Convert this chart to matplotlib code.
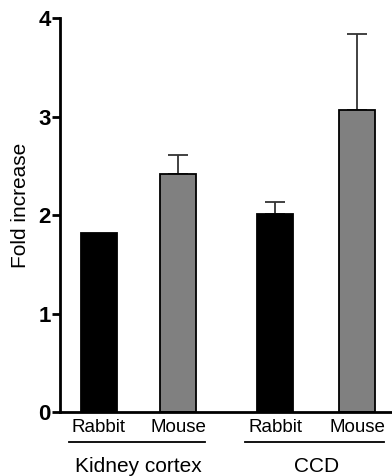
import matplotlib
matplotlib.use("Agg")
import matplotlib.pyplot as plt

plt.rcParams['font.family'] = ['Liberation Sans', 'DejaVu Sans']

# data
labels = ["Rabbit", "Mouse", "Rabbit", "Mouse"]
groups = ["Kidney cortex", "CCD"]
values = [1.82, 2.42, 2.01, 3.07]
errors = [0.0, 0.19, 0.12, 0.77]
colors = ["black", "#808080", "black", "#808080"]

# layout
pos = [0, 1, 2.22, 3.25]
width = 0.45

fig = plt.figure(figsize=(3.92, 4.76), dpi=100)
ax = fig.add_axes([0.153, 0.134, 0.847, 0.828])

ax.bar(pos, values, width=width, color=colors, edgecolor="black", linewidth=1.3, zorder=2)
for x, v, e in zip(pos, values, errors):
    if e > 0:
        ax.errorbar(x, v, yerr=[[0], [e]], fmt="none", ecolor="#333333",
                    elinewidth=1.3, capsize=7, capthick=1.3, zorder=1)

ax.set_xlim(-0.49, 3.69)
ax.set_ylim(0, 4)
ax.set_yticks([0, 1, 2, 3, 4])
ax.set_yticklabels(["0", "1", "2", "3", "4"], fontsize=16, fontweight="bold")
ax.tick_params(axis="y", length=6, width=2, pad=0.5)
ax.set_xticks(pos)
ax.set_xticklabels(labels, fontsize=13.5)
ax.tick_params(axis="x", length=0, pad=5)
ax.spines["top"].set_visible(False)
ax.spines["right"].set_visible(False)
ax.spines["left"].set_linewidth(2)
ax.spines["bottom"].set_linewidth(2)
ax.set_ylabel("Fold increase", fontsize=15)
ax.yaxis.set_label_coords(-0.09, 0.525)

# group underlines and names
trans = ax.get_xaxis_transform()
for (a, b), name in zip([(pos[0], pos[1]), (pos[2], pos[3])], groups):
    ax.plot([a - 0.38, b + 0.34], [-0.076, -0.076], color="black", lw=1.3,
            transform=trans, clip_on=False)
    ax.text((a + b) / 2, -0.138, name, fontsize=15, ha="center", va="center",
            transform=trans)

fig.savefig("out.png", dpi=100)
